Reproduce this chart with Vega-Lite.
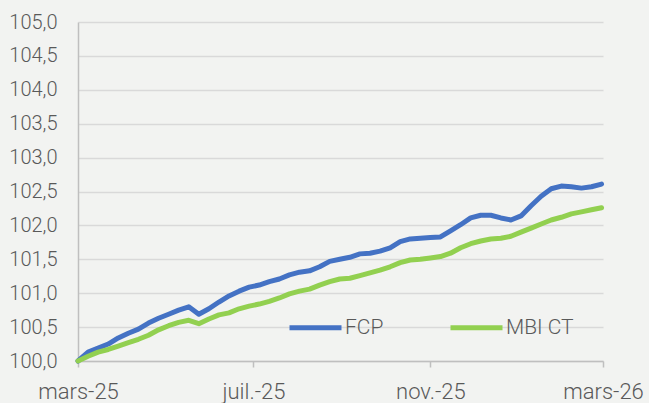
{
  "$schema": "https://vega.github.io/schema/vega-lite/v6.json",
  "width": 525,
  "height": 339,
  "autosize": {"type": "none"},
  "padding": {"left": 78, "top": 22, "right": 46, "bottom": 42},
  "background": "#f2f3f1",
  "config": {
    "view": {"stroke": null},
    "font": "Roboto",
    "locale": {
      "number": {"decimal": ",", "thousands": " ", "grouping": [3], "currency": ["", " €"]},
      "time": {
        "dateTime": "%A %e %B %Y à %X",
        "date": "%d/%m/%Y",
        "time": "%H:%M:%S",
        "periods": ["AM", "PM"],
        "days": ["dimanche", "lundi", "mardi", "mercredi", "jeudi", "vendredi", "samedi"],
        "shortDays": ["dim.", "lun.", "mar.", "mer.", "jeu.", "ven.", "sam."],
        "months": ["janvier", "février", "mars", "avril", "mai", "juin", "juillet", "août", "septembre", "octobre", "novembre", "décembre"],
        "shortMonths": ["janv.", "févr.", "mars", "avr.", "mai", "juin", "juil.", "août", "sept.", "oct.", "nov.", "déc."]
      }
    }
  },
  "data": {
    "values": [
      {"date": "2025-03-01", "series": "FCP", "value": 100.00},
      {"date": "2025-03-08", "series": "FCP", "value": 100.13},
      {"date": "2025-03-15", "series": "FCP", "value": 100.19},
      {"date": "2025-03-22", "series": "FCP", "value": 100.25},
      {"date": "2025-03-29", "series": "FCP", "value": 100.34},
      {"date": "2025-04-05", "series": "FCP", "value": 100.41},
      {"date": "2025-04-12", "series": "FCP", "value": 100.47},
      {"date": "2025-04-19", "series": "FCP", "value": 100.56},
      {"date": "2025-04-26", "series": "FCP", "value": 100.63},
      {"date": "2025-05-03", "series": "FCP", "value": 100.69},
      {"date": "2025-05-10", "series": "FCP", "value": 100.75},
      {"date": "2025-05-17", "series": "FCP", "value": 100.80},
      {"date": "2025-05-24", "series": "FCP", "value": 100.69},
      {"date": "2025-05-31", "series": "FCP", "value": 100.77},
      {"date": "2025-06-07", "series": "FCP", "value": 100.87},
      {"date": "2025-06-14", "series": "FCP", "value": 100.96},
      {"date": "2025-06-21", "series": "FCP", "value": 101.03},
      {"date": "2025-06-28", "series": "FCP", "value": 101.09},
      {"date": "2025-07-05", "series": "FCP", "value": 101.12},
      {"date": "2025-07-12", "series": "FCP", "value": 101.17},
      {"date": "2025-07-19", "series": "FCP", "value": 101.21},
      {"date": "2025-07-26", "series": "FCP", "value": 101.27},
      {"date": "2025-08-02", "series": "FCP", "value": 101.31},
      {"date": "2025-08-09", "series": "FCP", "value": 101.33},
      {"date": "2025-08-16", "series": "FCP", "value": 101.39},
      {"date": "2025-08-23", "series": "FCP", "value": 101.47},
      {"date": "2025-08-30", "series": "FCP", "value": 101.50},
      {"date": "2025-09-06", "series": "FCP", "value": 101.53},
      {"date": "2025-09-13", "series": "FCP", "value": 101.58},
      {"date": "2025-09-20", "series": "FCP", "value": 101.59},
      {"date": "2025-09-27", "series": "FCP", "value": 101.62},
      {"date": "2025-10-04", "series": "FCP", "value": 101.67},
      {"date": "2025-10-11", "series": "FCP", "value": 101.76},
      {"date": "2025-10-18", "series": "FCP", "value": 101.80},
      {"date": "2025-10-25", "series": "FCP", "value": 101.81},
      {"date": "2025-11-01", "series": "FCP", "value": 101.82},
      {"date": "2025-11-08", "series": "FCP", "value": 101.83},
      {"date": "2025-11-15", "series": "FCP", "value": 101.92},
      {"date": "2025-11-22", "series": "FCP", "value": 102.01},
      {"date": "2025-11-29", "series": "FCP", "value": 102.11},
      {"date": "2025-12-06", "series": "FCP", "value": 102.15},
      {"date": "2025-12-13", "series": "FCP", "value": 102.15},
      {"date": "2025-12-20", "series": "FCP", "value": 102.11},
      {"date": "2025-12-27", "series": "FCP", "value": 102.08},
      {"date": "2026-01-03", "series": "FCP", "value": 102.14},
      {"date": "2026-01-10", "series": "FCP", "value": 102.29},
      {"date": "2026-01-17", "series": "FCP", "value": 102.43},
      {"date": "2026-01-24", "series": "FCP", "value": 102.54},
      {"date": "2026-01-31", "series": "FCP", "value": 102.58},
      {"date": "2026-02-07", "series": "FCP", "value": 102.57},
      {"date": "2026-02-14", "series": "FCP", "value": 102.55},
      {"date": "2026-02-21", "series": "FCP", "value": 102.57},
      {"date": "2026-02-28", "series": "FCP", "value": 102.61},
      {"date": "2025-03-01", "series": "MBI CT", "value": 100.00},
      {"date": "2025-03-08", "series": "MBI CT", "value": 100.07},
      {"date": "2025-03-15", "series": "MBI CT", "value": 100.13},
      {"date": "2025-03-22", "series": "MBI CT", "value": 100.17},
      {"date": "2025-03-29", "series": "MBI CT", "value": 100.22},
      {"date": "2025-04-05", "series": "MBI CT", "value": 100.27},
      {"date": "2025-04-12", "series": "MBI CT", "value": 100.32},
      {"date": "2025-04-19", "series": "MBI CT", "value": 100.38},
      {"date": "2025-04-26", "series": "MBI CT", "value": 100.46},
      {"date": "2025-05-03", "series": "MBI CT", "value": 100.52},
      {"date": "2025-05-10", "series": "MBI CT", "value": 100.57},
      {"date": "2025-05-17", "series": "MBI CT", "value": 100.60},
      {"date": "2025-05-24", "series": "MBI CT", "value": 100.55},
      {"date": "2025-05-31", "series": "MBI CT", "value": 100.62},
      {"date": "2025-06-07", "series": "MBI CT", "value": 100.68},
      {"date": "2025-06-14", "series": "MBI CT", "value": 100.71},
      {"date": "2025-06-21", "series": "MBI CT", "value": 100.77},
      {"date": "2025-06-28", "series": "MBI CT", "value": 100.81},
      {"date": "2025-07-05", "series": "MBI CT", "value": 100.84},
      {"date": "2025-07-12", "series": "MBI CT", "value": 100.88},
      {"date": "2025-07-19", "series": "MBI CT", "value": 100.93},
      {"date": "2025-07-26", "series": "MBI CT", "value": 100.99},
      {"date": "2025-08-02", "series": "MBI CT", "value": 101.03},
      {"date": "2025-08-09", "series": "MBI CT", "value": 101.06},
      {"date": "2025-08-16", "series": "MBI CT", "value": 101.12},
      {"date": "2025-08-23", "series": "MBI CT", "value": 101.17},
      {"date": "2025-08-30", "series": "MBI CT", "value": 101.21},
      {"date": "2025-09-06", "series": "MBI CT", "value": 101.22},
      {"date": "2025-09-13", "series": "MBI CT", "value": 101.26},
      {"date": "2025-09-20", "series": "MBI CT", "value": 101.30},
      {"date": "2025-09-27", "series": "MBI CT", "value": 101.34},
      {"date": "2025-10-04", "series": "MBI CT", "value": 101.39},
      {"date": "2025-10-11", "series": "MBI CT", "value": 101.45},
      {"date": "2025-10-18", "series": "MBI CT", "value": 101.49},
      {"date": "2025-10-25", "series": "MBI CT", "value": 101.50},
      {"date": "2025-11-01", "series": "MBI CT", "value": 101.52},
      {"date": "2025-11-08", "series": "MBI CT", "value": 101.54},
      {"date": "2025-11-15", "series": "MBI CT", "value": 101.59},
      {"date": "2025-11-22", "series": "MBI CT", "value": 101.67},
      {"date": "2025-11-29", "series": "MBI CT", "value": 101.73},
      {"date": "2025-12-06", "series": "MBI CT", "value": 101.77},
      {"date": "2025-12-13", "series": "MBI CT", "value": 101.80},
      {"date": "2025-12-20", "series": "MBI CT", "value": 101.81},
      {"date": "2025-12-27", "series": "MBI CT", "value": 101.84},
      {"date": "2026-01-03", "series": "MBI CT", "value": 101.90},
      {"date": "2026-01-10", "series": "MBI CT", "value": 101.96},
      {"date": "2026-01-17", "series": "MBI CT", "value": 102.02},
      {"date": "2026-01-24", "series": "MBI CT", "value": 102.08},
      {"date": "2026-01-31", "series": "MBI CT", "value": 102.12},
      {"date": "2026-02-07", "series": "MBI CT", "value": 102.17},
      {"date": "2026-02-14", "series": "MBI CT", "value": 102.20},
      {"date": "2026-02-21", "series": "MBI CT", "value": 102.23},
      {"date": "2026-02-28", "series": "MBI CT", "value": 102.26}
    ]
  },
  "mark": {"type": "line", "strokeWidth": 5, "strokeCap": "round", "strokeJoin": "round"},
  "encoding": {
    "x": {
      "field": "date",
      "type": "temporal",
      "scale": {"type": "utc", "domain": [{"year": 2025, "month": 3, "date": 1, "utc": true}, {"year": 2026, "month": 3, "date": 1, "utc": true}]},
      "axis": {
        "title": null,
        "values": [
          {"year": 2025, "month": 3, "date": 1, "utc": true},
          {"year": 2025, "month": 7, "date": 1, "utc": true},
          {"year": 2025, "month": 11, "date": 1, "utc": true},
          {"year": 2026, "month": 3, "date": 1, "utc": true}
        ],
        "format": "%b-%y",
        "grid": false,
        "domainColor": "#bfbfbf",
        "domainWidth": 1.5,
        "tickColor": "#bfbfbf",
        "tickWidth": 1.5,
        "tickSize": 6,
        "labelPadding": 14,
        "labelFontSize": 22,
        "labelFontWeight": 300,
        "labelColor": "#595959",
        "labelFlush": false,
        "labelOverlap": false
      }
    },
    "y": {
      "field": "value",
      "type": "quantitative",
      "scale": {"domain": [100, 105], "nice": false, "zero": false},
      "axis": {
        "title": null,
        "values": [100, 100.5, 101, 101.5, 102, 102.5, 103, 103.5, 104, 104.5, 105],
        "format": ".1f",
        "ticks": false,
        "labelPadding": 21,
        "labelFontSize": 20,
        "labelFontWeight": 300,
        "labelColor": "#595959",
        "domainColor": "#bfbfbf",
        "domainWidth": 1.5,
        "gridColor": "#d9d9d9",
        "gridWidth": 1.5
      }
    },
    "color": {
      "field": "series",
      "type": "nominal",
      "scale": {"domain": ["FCP", "MBI CT"], "range": ["#4472c4", "#92d050"]},
      "legend": {
        "title": null,
        "orient": "none",
        "legendX": 209,
        "legendY": 277,
        "direction": "horizontal",
        "columns": 2,
        "columnPadding": 56,
        "symbolType": "stroke",
        "symbolSize": 2704,
        "symbolStrokeWidth": 5,
        "labelFontSize": 21,
        "labelFontWeight": 300,
        "labelColor": "#595959",
        "labelOffset": 1,
        "padding": 0
      }
    }
  }
}
